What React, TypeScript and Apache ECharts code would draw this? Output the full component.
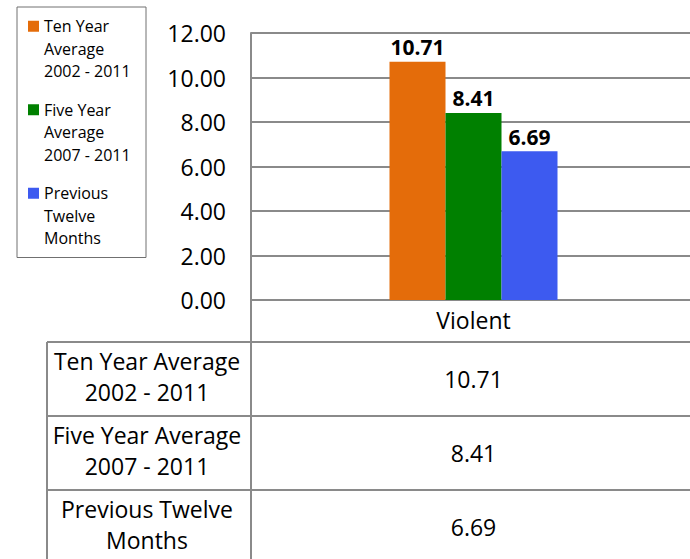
import React, { useEffect, useRef } from "react";
import * as echarts from "echarts";

// ---- data ----
const categories = ["Violent"];
const seriesNames = [
  "Ten Year Average 2002 - 2011",
  "Five Year Average 2007 - 2011",
  "Previous Twelve Months",
];
const legendLabels = [
  "Ten Year\nAverage\n2002 - 2011",
  "Five Year\nAverage\n2007 - 2011",
  "Previous\nTwelve\nMonths",
];
const tableLabels = [
  "Ten Year Average\n2002 - 2011",
  "Five Year Average\n2007 - 2011",
  "Previous Twelve\nMonths",
];
const tenYearAverage = [10.71];
const fiveYearAverage = [8.41];
const previousTwelveMonths = [6.69];
const seriesValues = [tenYearAverage, fiveYearAverage, previousTwelveMonths];
const seriesColors = ["#E46C0A", "#008000", "#3D5AF0"];
const yMin = 0;
const yMax = 12;
const yInterval = 2;

// ---- layout / style ----
const W = 702; // chart canvas is a bit wider than the 690px window; the plot runs past the right edge
const H = 559;
const FONT = "'Open Sans', sans-serif";
const GRAY = "#8a8a8a";
const plotLeft = 251;
const plotTop = 33;
const plotRightInset = 6;
const plotBottom = 300;
const tableTop = 342;
const rowH = 74;
const tableLeft = 47;
const labelCenterX = 147;
const valueCenterX = (plotLeft + (W - plotRightInset)) / 2;

export default function App() {
  const ref = useRef<HTMLDivElement>(null);

  useEffect(() => {
    if (!ref.current) return;
    const chart = echarts.init(ref.current, undefined, { renderer: "svg" });

    const graphics: any[] = [];
    const line = (x1: number, y1: number, x2: number, y2: number) => ({
      type: "line",
      shape: { x1, y1, x2, y2 },
      style: { stroke: GRAY, lineWidth: 2 },
      z: 10,
    });
    graphics.push(line(plotLeft, plotBottom, plotLeft, H));
    graphics.push(line(tableLeft, tableTop, tableLeft, H));
    for (let i = 0; i < seriesNames.length; i++) {
      const y = tableTop + i * rowH;
      graphics.push(line(tableLeft, y, W, y));
      const cy = y + rowH / 2;
      graphics.push({
        type: "text",
        x: labelCenterX,
        y: cy - 2.5,
        style: {
          text: tableLabels[i],
          align: "center",
          verticalAlign: "middle",
          fontSize: 23,
          lineHeight: 31,
          fontFamily: FONT,
          fill: "#000",
        },
        z: 10,
      });
      graphics.push({
        type: "text",
        x: valueCenterX,
        y: cy,
        style: {
          text: seriesValues[i][0].toFixed(2),
          align: "center",
          verticalAlign: "middle",
          fontSize: 23,
          fontFamily: FONT,
          fill: "#000",
        },
        z: 10,
      });
    }

    chart.setOption({
      animation: false,
      backgroundColor: "#fff",
      textStyle: { fontFamily: FONT },
      grid: {
        left: plotLeft,
        top: plotTop,
        right: plotRightInset,
        bottom: H - plotBottom,
        containLabel: false,
      },
      legend: {
        orient: "vertical",
        left: 17,
        top: 7,
        padding: [8, 12, 8, 11],
        itemWidth: 11,
        itemHeight: 67.5,
        itemGap: 16,
        icon: "path://M0,0L0,0M0,5.75H11V16.75H0ZM0,67.5L0,67.5",
        borderColor: "#707070",
        borderWidth: 1,
        selectedMode: false,
        data: seriesNames,
        formatter: (name: string) => legendLabels[seriesNames.indexOf(name)],
        textStyle: { fontSize: 16, lineHeight: 22.5, color: "#000", width: 90, fontFamily: FONT },
      },
      xAxis: {
        type: "category",
        data: categories,
        axisLine: { show: true, lineStyle: { color: GRAY, width: 2 } },
        axisTick: { show: false },
        axisLabel: { fontSize: 23, color: "#000", margin: 8, fontFamily: FONT },
      },
      yAxis: {
        type: "value",
        min: yMin,
        max: yMax,
        interval: yInterval,
        axisLine: { show: true, lineStyle: { color: GRAY, width: 2 } },
        axisTick: { show: false },
        axisLabel: {
          formatter: (v: number) => v.toFixed(2),
          fontSize: 23,
          color: "#000",
          margin: 25,
          fontFamily: FONT,
        },
        splitLine: { lineStyle: { color: GRAY, width: 2 } },
      },
      series: seriesNames.map((name, i) => ({
        name,
        type: "bar",
        data: seriesValues[i],
        barWidth: 56,
        barGap: "0%",
        itemStyle: { color: seriesColors[i] },
        label: {
          show: true,
          position: "top",
          distance: 4,
          fontSize: 21,
          fontWeight: "bold",
          color: "#000",
          fontFamily: FONT,
          formatter: (p: any) => Number(p.value).toFixed(2),
        },
      })),
      graphic: graphics,
    });

    return () => chart.dispose();
  }, []);

  return (
    <div
      ref={ref}
      style={{ position: "fixed", left: 0, top: 0, width: W, height: H, background: "#fff" }}
    />
  );
}
